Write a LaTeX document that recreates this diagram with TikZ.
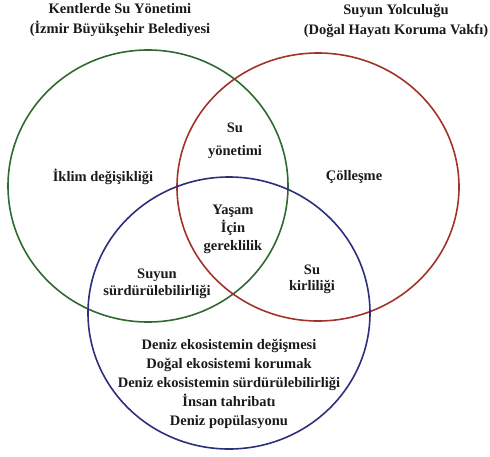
\documentclass[tikz,border=0pt]{standalone}
\usepackage{fontspec}
\setmainfont{Liberation Serif}
\usepackage{tikz}
\definecolor{VennGreen}{HTML}{2F6A31}
\definecolor{VennRed}{HTML}{A2332B}
\definecolor{VennBlue}{HTML}{2D2F7C}
\definecolor{VennInk}{HTML}{1A1A1A}

\begin{document}
\begin{tikzpicture}[x=1pt,y=-1pt,
    ring/.style={line width=1.6pt},
    label/.style={VennInk, align=center, inner sep=0pt,
      font=\bfseries\fontsize{14.5pt}{17pt}\selectfont}]
        \useasboundingbox (0,0) rectangle (490,456);
        % the three sets
        \draw[ring, VennGreen] (148,186) ellipse [x radius=140, y radius=136];
        \draw[ring, VennRed] (318,187) ellipse [x radius=141, y radius=134];
        \draw[ring, VennBlue] (229,313) ellipse [x radius=141, y radius=136];
        % headings
        \node[label, font=\bfseries\fontsize{14.5pt}{20pt}\selectfont] (headleft) at (120,20) {Kentlerde Su Yönetimi\\(İzmir Büyükşehir Belediyesi};
        \node[label, font=\bfseries\fontsize{14.5pt}{20pt}\selectfont] (headright) at (396,21) {Suyun Yolculuğu\\(Doğal Hayatı Koruma Vakfı)};
        % regions
        \node[label] (climate) at (103,177) {İklim değişikliği};
        \node[label] (desert) at (354,177) {Çölleşme};
        \node[label, font=\bfseries\fontsize{14.5pt}{23pt}\selectfont] (manage) at (235,141) {Su\\yönetimi};
        \node[label, font=\bfseries\fontsize{14.5pt}{18pt}\selectfont] (life) at (233,229) {Yaşam\\İçin\\gereklilik};
        \node[label] (sustain) at (157,284) {Suyun\\sürdürülebilirliği};
        \node[label, font=\bfseries\fontsize{14.5pt}{16pt}\selectfont] (pollution) at (312,279) {Su\\kirliliği};
        \node[label, font=\bfseries\fontsize{14.5pt}{19pt}\selectfont] (marine) at (229,384) {Deniz ekosistemin değişmesi\\Doğal ekosistemi korumak\\Deniz ekosistemin sürdürülebilirliği\\İnsan tahribatı\\Deniz popülasyonu};
      \end{tikzpicture}
\end{document}
